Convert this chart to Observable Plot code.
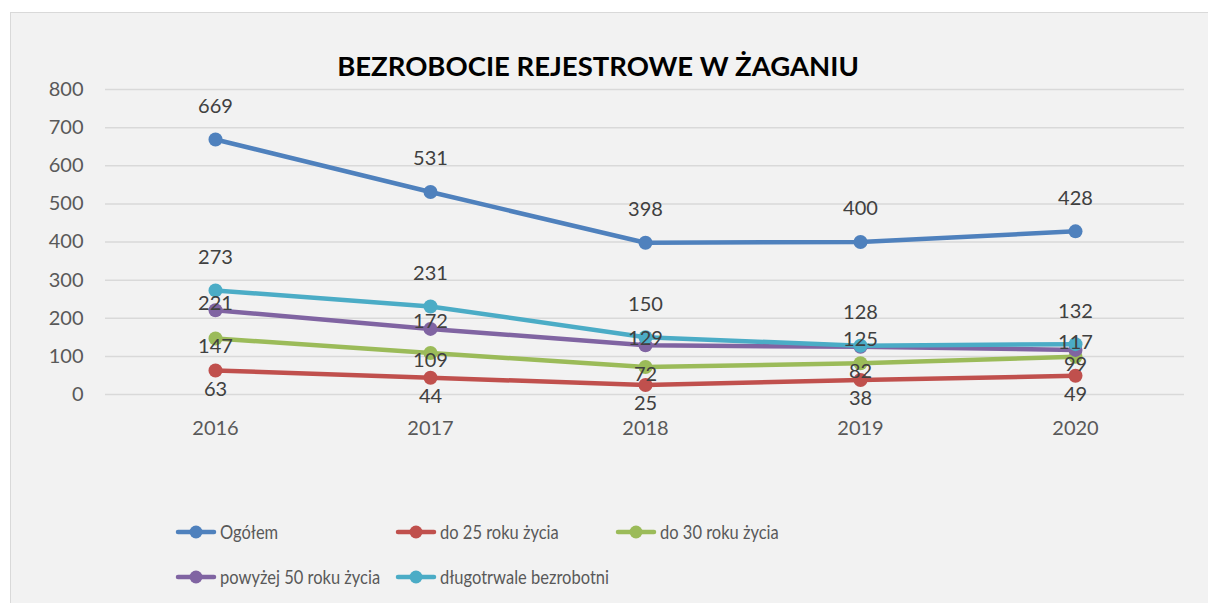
<!DOCTYPE html>
<html>
<head>
<meta charset="utf-8">
<script src="https://cdn.jsdelivr.net/npm/d3@7"></script>
<script src="https://cdn.jsdelivr.net/npm/@observablehq/plot@0.6"></script>
<style>
  html, body { margin: 0; padding: 0; background: #ffffff; }
  body { width: 1208px; height: 603px; overflow: hidden; position: relative; font-family: Lato, "Open Sans", sans-serif; }
  #frame { position: absolute; left: 10px; top: 12px; width: 1210px; height: 600px; background: #f2f2f2; border: 1.5px solid #d9d9d9; box-sizing: border-box; }
  #title { position: absolute; left: 0; width: 1196px; top: 49px; margin: 0; text-align: center; font-family: Lato, sans-serif; font-weight: bold; font-size: 27.5px; color: #000; }
  #chart { position: absolute; left: 0; top: 0; }
  #legend { position: absolute; left: 175px; top: 518px; display: grid; grid-template-columns: 220px 220px 220px; grid-auto-rows: 45px; }
  .item { display: flex; align-items: center; font-size: 16.5px; color: #595959; font-family: Lato, sans-serif; height: 28px; white-space: nowrap; }
  .item svg { margin-right: 3px; flex: none; }
  .item span { display: inline-block; transform: scaleY(1.2); transform-origin: center; }
</style>
</head>
<body>
<div id="frame"></div>
<h2 id="title">BEZROBOCIE REJESTROWE W ŻAGANIU</h2>
<div id="chart"></div>
<div id="legend"></div>
<script>
const years = ["2016", "2017", "2018", "2019", "2020"];
const seriesNames = ["Ogółem", "do 25 roku życia", "do 30 roku życia", "powyżej 50 roku życia", "długotrwale bezrobotni"];
const ogolem = [669, 531, 398, 400, 428];
const do25 = [63, 44, 25, 38, 49];
const do30 = [147, 109, 72, 82, 99];
const powyzej50 = [221, 172, 129, 125, 117];
const dlugotrwale = [273, 231, 150, 128, 132];
const colors = ["#4f81bd", "#c0504d", "#9bbb59", "#8064a2", "#4bacc6"];
const yTicks = [0, 100, 200, 300, 400, 500, 600, 700, 800];

const allValues = [ogolem, do25, do30, powyzej50, dlugotrwale];
const labelOffsets = [-33, 19, 8, -7, -33];

const rows = [];
seriesNames.forEach((s, i) => {
  years.forEach((y, j) => rows.push({series: s, year: y, value: allValues[i][j], idx: i}));
});

const lineMarks = [];
const labelMarks = [];
seriesNames.forEach((s, i) => {
  const d = rows.filter(r => r.series === s);
  lineMarks.push(Plot.line(d, {x: "year", y: "value", stroke: colors[i], strokeWidth: 4.5, strokeLinecap: "round", strokeLinejoin: "round"}));
  lineMarks.push(Plot.dot(d, {x: "year", y: "value", r: 7, fill: colors[i], stroke: "none"}));
  labelMarks.push(Plot.text(d, {x: "year", y: "value", text: r => String(r.value), dy: labelOffsets[i], fill: "#404040", fontSize: 20}));
});

const plot = Plot.plot({
  width: 1208,
  height: 450,
  marginLeft: 105,
  marginRight: 24,
  marginTop: 89,
  marginBottom: 56,
  style: {background: "transparent", fontFamily: "Lato, sans-serif", fontSize: "20px", color: "#595959", overflow: "visible"},
  x: {type: "point", domain: years, padding: 0.5, label: null},
  y: {domain: [0, 800], label: null},
  marks: [
    Plot.gridY(yTicks, {stroke: "#d9d9d9", strokeOpacity: 1, strokeWidth: 1.5}),
    Plot.axisY(yTicks, {tickSize: 0, tickPadding: 22, fontSize: 20, fill: "#595959", label: null}),
    Plot.axisX(years, {tickSize: 0, tickPadding: 26, fontSize: 20, fill: "#595959", label: null}),
    ...lineMarks,
    ...labelMarks
  ]
});
document.getElementById("chart").appendChild(plot);

const legend = document.getElementById("legend");
seriesNames.forEach((s, i) => {
  const item = document.createElement("div");
  item.className = "item";
  item.innerHTML = `<svg width="42" height="16"><line x1="3" y1="8" x2="39" y2="8" stroke="${colors[i]}" stroke-width="4.5" stroke-linecap="round"/><circle cx="21" cy="8" r="6.5" fill="${colors[i]}"/></svg><span>${s}</span>`;
  legend.appendChild(item);
});
</script>
</body>
</html>
